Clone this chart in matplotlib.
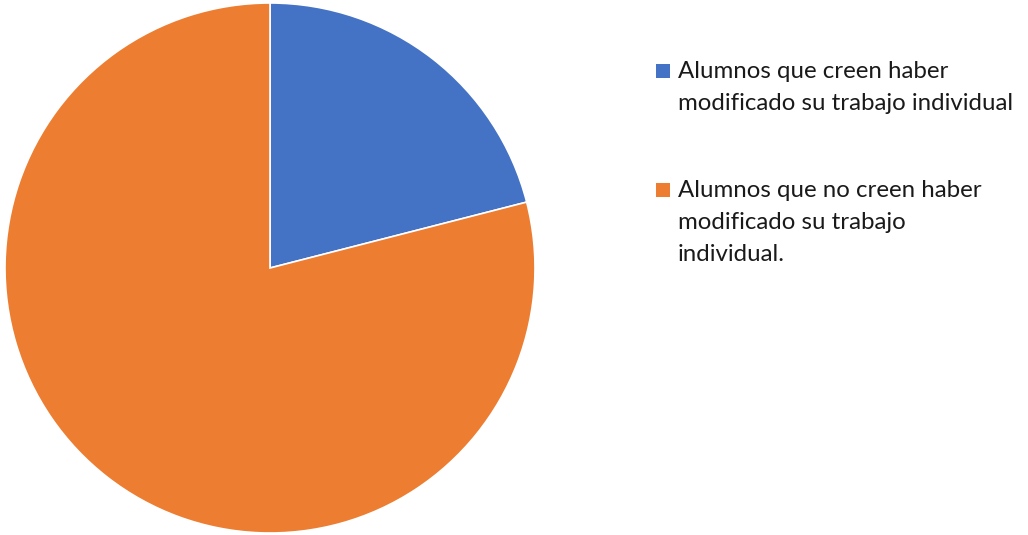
import matplotlib
matplotlib.use('Agg')
from matplotlib import pyplot as plt
from matplotlib.patches import Rectangle

labels = [['Alumnos que creen haber', 'modificado su trabajo individual'],
          ['Alumnos que no creen haber', 'modificado su trabajo', 'individual.']]
values = [21, 79]
colors = ['#4472C4', '#ED7D31']

W, H = 1028, 535
fig = plt.figure(figsize=(W / 100, H / 100), dpi=100)
# pie centre ~ (270, 268) px, radius ~265 px
ax = fig.add_axes([5 / W, 2 / H, 530 / W, 530 / H])
wedges, _ = ax.pie(values, colors=colors, startangle=90, counterclock=False,
                   wedgeprops=dict(edgecolor='white', linewidth=1.2))
ax.set_aspect('equal')
ax.set_xlim(-1, 1)
ax.set_ylim(-1, 1)

# legend drawn by hand so the marker sits on the first line
first_base = [78, 197]   # baseline of first line, px from top
line_gap = 32
for lab, col, base in zip(labels, colors, first_base):
    fig.add_artist(Rectangle((656 / W, 1 - (base) / H), 14 / W, 14 / H,
                             transform=fig.transFigure, facecolor=col, edgecolor='none'))
    for i, line in enumerate(lab):
        fig.text(678 / W, 1 - (base + i * line_gap) / H, line, va='baseline', ha='left',
                 fontsize=17.3, color='#1a1a1a', family=['Lato', 'DejaVu Sans'])

fig.savefig('out.png', dpi=100)
